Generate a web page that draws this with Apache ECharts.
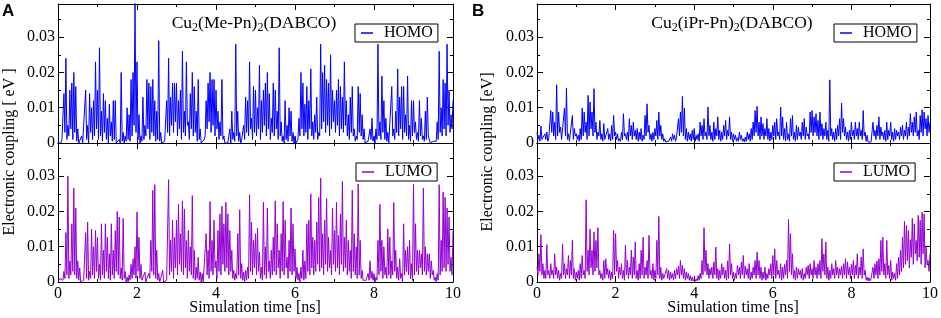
<!DOCTYPE html>
<html>
<head>
<meta charset="utf-8">
<title>Electronic coupling</title>
<script src="https://cdn.jsdelivr.net/npm/echarts@6/dist/echarts.min.js"></script>
<style>
    html, body { margin: 0; padding: 0; background: #fff; }
    #couplingCharts { width: 941px; height: 318px; }
</style>
</head>
<body>
<div id="couplingCharts"></div>
<script>
    // electronic coupling, in meV, one sample every 0.025 ns (0 .. 10 ns)
    const timeStep = 0.025
    const homoA = [
        0,0, 0.5,0, 1,0.5, 14,3, 24,1, 5,2, 15,4, 17,1, 20,3, 16,0.5,
        4,0, 0,0, 2,0, 0,0.5, 15,1, 5,0, 14,3, 10,1, 12,2, 23,4,
        15,1, 27,2, 9,0.5, 14,3, 12,1, 7,0, 11,2, 6,0.5, 12,1, 12,0,
        0,0, 1,0, 20,0.5, 3,0, 2,0.5, 10,1, 8,0.5, 18,2, 20,5, 40,3,
        23,1, 8,0, 2,0.5, 13,1, 5,2, 18,4, 17,1, 16,3, 18,2, 12,0.5,
        9,1, 29,0.5, 3,0, 0,0, 0.5,1, 12,3, 24,2, 13,5, 17,3, 17,6,
        17,2, 12,4, 15,1, 26,3, 9,2, 23,5, 6,1, 14,4, 20,2, 16,3,
        9,0.5, 18,1, 4,0, 0,0, 1,2, 12,4, 17,6, 20,3, 18,5, 18,2,
        15,4, 9,1, 6,2, 18,1, 2,0, 0,0, 0,0.5, 4,0, 9,1, 3,0.5,
        28,2, 9,0.5, 3,0, 1,0.5, 5,1, 13,3, 12,2, 23,4, 7,1, 16,3,
        15,2, 10,4, 22,1, 12,3, 15,5, 17,2, 20,4, 14,1, 7,3, 17,2,
        15,4, 9,1, 27,2, 6,0.5, 2,0, 12,1, 5,0.5, 10,2, 9,0.5, 3,0,
        2,0, 0.5,1, 7,2, 20,4, 17,2, 11,3, 16,1, 12,4, 21,2, 6,1,
        8,3, 13,1, 3,2, 28,4, 20,6, 22,3, 18,5, 17,2, 25,4, 15,6,
        12,3, 15,5, 18,2, 16,4, 13,3, 23,5, 12,2, 8,1, 13,3, 16,2,
        4,0.5, 2,1, 16,3, 14,2, 8,1, 4,0, 0,0, 0.5,0, 4,1, 7,0.5,
        2,0, 4,1, 28,2, 6,1, 19,3, 12,1, 7,0.5, 3,0, 0,0.5, 16,2,
        4,1, 9,3, 21,2, 13,4, 16,1, 16,3, 8,2, 19,1, 5,0.5, 12,2,
        12,3, 6,1, 3,0.5, 12,2, 7,1, 2,0.5, 9,1, 13,2, 2,0, 0,0,
        0.5,0, 0,0.5, 6,1, 26,3, 10,2, 18,4, 17,2, 28,5, 15,3, 8,4,
        12
    ]
    const lumoA = [
        0,0, 1,0.5, 1.5,0.5, 3,1, 14,2, 30,1, 6,2, 16.5,3, 26.6,2, 21,1,
        6,0.5, 4,0, 0,0, 0.5,0, 14,1, 17,0.5, 3,1, 15,2, 10,1, 14.6,3,
        12.7,1, 5,0.5, 16.5,2, 9,1, 16.5,3, 12.7,1, 8,0.5, 16.5,2, 9,1, 14.6,3,
        20,2, 18.4,1, 4,0.5, 18,1, 3,0, 1.4,0, 2,0.5, 5,1, 6.6,2, 10,1,
        19.8,3, 12.7,1, 5,0.5, 0,0, 2.8,0, 1,0.5, 2.4,1, 11.8,3, 26,2, 27.6,1,
        9,0.5, 2.4,0, 0,0, 3.3,0, 0,0, 0.5,1, 29,2, 11.8,3, 17.5,1, 12.7,4,
        17.5,2, 22,5, 13.7,3, 23,2, 20.7,4, 11.8,1, 14.6,3, 10,2, 24.5,1, 9,0.5,
        4.2,1, 7,0.5, 2.8,0, 2.4,0, 0,0.5, 13.7,2, 9,1, 22.8,3, 11.8,2, 17.5,4,
        6,1, 14.6,3, 19.3,2, 21.5,5, 16.5,3, 22.6,4, 19.3,2, 14.6,3, 9,1, 3.3,0.5,
        2.4,1, 13.7,2, 20.5,1, 5.2,0.5, 2.8,0, 3.3,0.5, 4.2,1, 24.7,3, 17,2, 11.8,4,
        13.7,2, 15.3,3, 8.5,1, 4.2,0.5, 22.6,2, 10,1, 21,3, 6,1, 9,2, 12.7,3,
        23,2, 16.5,4, 9,1, 13.7,3, 22.8,2, 17.5,4, 7,1, 11.8,3, 21,2, 16.5,3,
        9.4,1, 4.2,0.5, 2.4,0, 4.2,1, 9,0.5, 6,1, 16.5,3, 17.5,2, 25,4, 12.7,2,
        11.8,3, 17,5, 24,3, 29.4,4, 13.7,2, 17.5,5, 23.6,3, 12.7,4, 9,2, 21,5,
        14.6,3, 22.6,4, 13.2,2, 19.3,5, 28.5,3, 12.7,4, 17.5,2, 11.8,3, 9,1, 26,3,
        13.7,2, 10,1, 27.8,2, 11.8,1, 3.3,0.5, 0,0, 0.5,0, 2.4,0.5, 6,1, 3,0.5,
        2.4,0, 1.4,0.5, 11.8,2, 22,3, 11.8,1, 10,2, 4.2,1, 15,2, 12.7,1, 6,2,
        22.5,3, 9,1, 4.2,0.5, 6.6,1, 2.4,0, 16.5,2, 9,3, 10,2, 11.8,1, 5.2,0.5,
        27.8,2, 16.5,3, 9,2, 9,4, 8,2, 26.6,3, 10,2, 8,3, 8,1, 6,2,
        3.3,0.5, 1.4,0, 2.4,0.5, 27.6,2, 11.8,3, 25.5,4, 24,3, 21,5, 18.4,3, 7,2,
        14.6
    ]
    const homoB = [
        3,1, 2.2,0.5, 4.8,1, 1.5,0.5, 2.6,1, 3.1,0.5, 1.5,2, 9.2,3, 8.8,2, 5.9,1,
        16.5,2, 8.8,3, 4.5,1, 1.5,0.5, 9.9,2, 15.6,1, 2.6,0.5, 1,0.5, 7.8,1, 4.1,2,
        2.6,1, 2.2,0.5, 4.1,1, 9.9,2, 8.8,3, 5.9,1, 13.5,2, 11.6,4, 8.8,2, 15.4,3,
        5.9,1, 3.1,2, 6.4,1, 2.6,0.5, 5.5,1, 1.5,0.5, 4.1,1, 2.6,0.5, 5,1, 7.8,2,
        3.1,1, 2.6,0.5, 1.2,0.5, 3,1, 8.3,2, 2.6,1, 3.1,0.5, 6.9,2, 5,1, 5.9,2,
        3.6,1, 4.1,0.5, 3.1,1, 4.1,0.5, 2.2,1, 7.8,2, 11.1,3, 5,1, 2.6,0.5, 3,1,
        4.1,2, 6.4,1, 8.8,2, 5,1, 2.6,0.5, 1.2,0.3, 0.8,0.2, 0.5,0.3, 1.7,0.5, 2.6,1,
        2.2,0.5, 1.5,1, 6.9,2, 8.8,3, 13.2,2, 9.9,1, 4.1,0.5, 3.1,1, 2.6,0.5, 3.6,1,
        4.1,0.5, 2.2,1, 2.6,0.5, 5.9,2, 5,1, 6.9,2, 3.1,1, 10.2,2, 5,1, 3,0.5,
        5.9,1, 4.1,2, 7.4,1, 3.6,0.5, 3.1,1, 5,2, 6.4,1, 3.6,2, 7.4,1, 3.1,0.5,
        2.6,1, 2.2,0.5, 1.5,0.5, 3.1,1, 2.2,0.5, 1.2,0.3, 1.7,0.5, 3.1,1, 2.6,0.5, 4.1,1,
        5.9,2, 9.2,3, 10.4,2, 5.9,1, 7.4,2, 5.5,1, 4.1,2, 6.9,1, 4.1,0.5, 3.1,1,
        5,2, 5.9,1, 6.9,2, 3.1,1, 10.2,2, 7.4,1, 4.1,0.5, 5.9,1, 2.6,0.5, 6.9,2,
        7.8,1, 3.1,0.5, 5,1, 4.5,2, 3.1,1, 5.9,2, 6.9,1, 4.5,2, 2.6,1, 8.8,3,
        9.2,2, 7.4,3, 8.3,2, 6.4,1, 8.8,2, 5.5,1, 4.1,2, 5.9,1, 3.6,0.5, 17.9,2,
        4.1,1, 3.1,0.5, 4.1,1, 5,2, 6.9,1, 11.3,3, 6.9,2, 4.5,1, 3.1,0.5, 3.6,1,
        5.9,2, 3.6,1, 5.9,2, 4.1,1, 5.9,2, 3.6,1, 9.2,2, 3.1,0.5, 2.2,0.3, 0.3,0,
        0.3,0.5, 5.9,2, 3.6,1, 5,2, 7.4,1, 4.5,2, 3.1,1, 3.6,0.5, 5.9,1, 3.6,2,
        5.9,1, 3.1,0.5, 4.1,1, 3.6,2, 3.1,1, 4.5,2, 5,1, 3.6,2, 5.9,1, 4.5,2,
        8.3,3, 5.9,2, 7.4,3, 8.8,2, 3.6,1, 7.8,3, 9.4,2, 8.8,4, 6.9,2, 7.8,3,
        5.9
    ]
    const lumoB = [
        4.2,2, 8,3, 13.4,2, 5.2,1, 3.3,1, 10.6,2, 3.3,1, 5.2,2, 3.3,1, 8,2,
        4.2,1, 3.3,0.5, 2.4,1, 10.8,2, 5.2,1, 3.8,2, 7.5,1, 6.1,2, 11.8,1, 3.8,0.5,
        2.8,1, 3.3,0.5, 5.2,1, 7.5,2, 3.3,1, 23.3,3, 9,2, 15,4, 9,2, 14.2,3,
        11.8,4, 15.4,2, 3.3,1, 2.4,0.5, 6.1,1, 6.6,2, 3.8,1, 3.3,0.5, 2.8,1, 14.6,2,
        13.7,3, 6.1,1, 4.2,2, 5.2,1, 3.3,0.5, 10.4,2, 6.1,1, 4.2,2, 9,1, 7.1,2,
        11.3,1, 3.3,0.5, 5.2,1, 9,2, 12.7,1, 4.2,2, 6.1,1, 13.2,2, 3.3,1, 5.2,0.5,
        3.3,1, 11.8,2, 18.6,1, 4.2,0.5, 2.4,1, 1.4,0.5, 3.8,1, 3.3,0.5, 2.8,1, 2.4,0.5,
        3.3,1, 3.8,2, 4.5,1, 6.1,2, 4.7,1, 3.8,0.5, 2.8,1, 2.4,0.5, 1.8,0.3, 1.4,0.3,
        0.9,0.2, 0.9,0.3, 1.8,0.5, 2.4,1, 6.1,2, 15.4,3, 9,2, 5.2,1, 3.8,2, 4.2,1,
        5.7,2, 9.9,1, 3.8,0.5, 3.3,1, 5.2,2, 4.2,1, 3.3,0.5, 6,1, 10.8,2, 5.2,1,
        2.8,0.5, 2.4,1, 4.7,2, 4.2,1, 5.7,2, 7.5,1, 4.5,2, 3.8,1, 5.2,0.5, 2.8,1,
        4.2,2, 6.1,1, 8.5,2, 6.1,1, 4.2,0.5, 2.8,1, 4.2,0.5, 2.4,1, 3.8,2, 5.2,1,
        7.5,2, 9.4,1, 6.1,2, 3.3,1, 5.2,0.5, 4.2,1, 5,2, 6.1,1, 17.7,3, 13.7,2,
        8,1, 3.3,0.5, 4.2,1, 3.8,2, 3.3,1, 3.8,0.5, 2.4,1, 4.2,2, 4.7,1, 5.2,2,
        3.8,1, 6.1,2, 4.2,1, 5.2,2, 6.1,1, 12.3,3, 8,2, 11.3,1, 4.2,0.5, 3.3,1,
        5.2,2, 3.8,1, 6.1,2, 4.2,1, 3.8,2, 4.5,1, 5.2,2, 6.6,1, 5.7,2, 4.2,1,
        5,2, 6.1,1, 4.7,2, 8,1, 4.2,2, 7.1,1, 9.4,2, 3.3,0.5, 1.4,0.3, 1.2,0.3,
        0.9,0.5, 4.2,1, 5.2,2, 6,1, 6.6,2, 11.8,3, 12.7,2, 5.2,1, 11.8,2, 4.7,1,
        6.1,0.5, 2.8,1, 2.4,0.5, 5.2,1, 7,2, 9,3, 12.7,4, 17.2,5, 16,6, 14.6,4,
        12,7, 18,5, 16.5,8, 11.8,6, 18.9,7, 17.5,5, 19.8,8, 19.3,4, 9.9,5, 6.1,3,
        8
    ]
    const timeTicks = [0, 2, 4, 6, 8, 10]
    const couplingTicks = [0, 0.01, 0.02, 0.03]
    const panelTitles = ['{m|Cu}{s|2}{m|(Me-Pn)}{s|2}{m|(DABCO)}', '{m|Cu}{s|2}{m|(iPr-Pn)}{s|2}{m|(DABCO)}']
    const yNames = ['Electronic coupling [ eV ]', 'Electronic coupling [eV]']

    const serif = '"Liberation Serif", "Times New Roman", serif'
    const blue = '#0000ff'
    const violet = '#9400d3'
    const yMax = 0.0394

    const times = homoA.map((_, i) => +(i * timeStep).toFixed(3))
    const toPairs = arr => arr.map((v, i) => [times[i], v / 1000])

    // A panel on the left, B on the right; HOMO on top, LUMO below
    const panels = [{left: 58, width: 395, mid: 255}, {left: 537, width: 393, mid: 733}]
    const rows = [{top: 4, height: 139}, {top: 143, height: 139}]

    const axisLine = {onZero: false, lineStyle: {color: '#000', width: 1}}
    function xAxisFor(g, position, labels) {
        return {
            type: 'value', gridIndex: g, position: position,
            min: 0, max: 10, interval: 2,
            axisLine: axisLine,
            axisTick: {inside: true, length: 6, customValues: timeTicks, lineStyle: {color: '#000'}},
            minorTick: {show: true, splitNumber: 2, length: 3, lineStyle: {color: '#000'}},
            splitLine: {show: false},
            axisLabel: {
                show: labels, customValues: timeTicks, margin: 4,
                color: '#000', fontFamily: serif, fontSize: 16
            }
        }
    }
    function yAxisFor(g, position, labels) {
        return {
            type: 'value', gridIndex: g, position: position,
            min: 0, max: yMax, interval: 0.01,
            axisLine: axisLine,
            axisTick: {inside: true, length: 6, customValues: couplingTicks, lineStyle: {color: '#000'}},
            minorTick: {show: true, splitNumber: 2, length: 3, lineStyle: {color: '#000'}},
            splitLine: {show: false},
            axisLabel: {
                show: labels, customValues: couplingTicks, margin: 3,
                color: '#000', fontFamily: serif, fontSize: 16,
                formatter: v => v === 0 ? '0' : v.toFixed(2)
            }
        }
    }

    const grids = [], xAxes = [], yAxes = []
    panels.forEach(p => {
        rows.forEach((r, ri) => {
            const g = grids.length
            grids.push({left: p.left, top: r.top, width: p.width, height: r.height})
            xAxes.push(xAxisFor(g, 'bottom', ri === 1), xAxisFor(g, 'top', false))
            yAxes.push(yAxisFor(g, 'left', true), yAxisFor(g, 'right', false))
        })
    })

    const lines = [
        {name: 'HOMO', values: homoA, grid: 0, color: blue},
        {name: 'LUMO', values: lumoA, grid: 1, color: violet},
        {name: 'HOMO', values: homoB, grid: 2, color: blue},
        {name: 'LUMO', values: lumoB, grid: 3, color: violet}
    ]

    const legendBoxes = [
        {name: 'HOMO', left: 355, top: 24},
        {name: 'LUMO', left: 356, top: 163},
        {name: 'HOMO', left: 834, top: 24},
        {name: 'LUMO', left: 834, top: 163}
    ]

    const graphics = []
    panels.forEach((p, pi) => {
        graphics.push({
            type: 'text', left: pi === 0 ? 2 : 472, top: 3,
            style: {text: pi === 0 ? 'A' : 'B', font: 'bold 17px "Liberation Sans", Arial, sans-serif', fill: '#000'}
        })
        graphics.push({
            type: 'text', x: p.mid - 1, y: 23,
            style: {
                text: panelTitles[pi], fill: '#000', align: 'center', verticalAlign: 'middle',
                rich: {
                    m: {fontFamily: serif, fontSize: 17.5, fill: '#000'},
                    s: {fontFamily: serif, fontSize: 12, fill: '#000', padding: [10, 0, 0, 0]}
                }
            }
        })
        graphics.push({
            type: 'text', x: pi === 0 ? 10 : 488, y: 152, rotation: Math.PI / 2,
            style: {text: yNames[pi], font: '16px ' + serif, fill: '#000', align: 'center', verticalAlign: 'middle'}
        })
        graphics.push({
            type: 'text', x: p.mid, y: 308,
            style: {text: 'Simulation time [ns]', font: '16px ' + serif, fill: '#000', align: 'center', verticalAlign: 'middle'}
        })
    })

    const option = {
        backgroundColor: '#fff',
        animation: false,
        grid: grids,
        xAxis: xAxes,
        yAxis: yAxes,
        legend: legendBoxes.map(l => ({
            data: [{name: l.name, icon: 'rect'}],
            left: l.left, top: l.top,
            padding: [1, 5, 1, 6],
            itemWidth: 12, itemHeight: 1.5,
            borderColor: '#000', borderWidth: 1, backgroundColor: '#fff',
            selectedMode: false,
            textStyle: {fontFamily: serif, fontSize: 16, color: '#000', padding: [0, 0, 0, 6]}
        })),
        series: lines.map(s => ({
            type: 'line', name: s.name,
            xAxisIndex: s.grid * 2, yAxisIndex: s.grid * 2,
            data: toPairs(s.values),
            showSymbol: false, symbol: 'none',
            lineStyle: {width: 1, color: s.color},
            itemStyle: {color: s.color},
            silent: true
        })),
        graphic: graphics
    }

    const couplingCharts = echarts.init(document.getElementById('couplingCharts'))
    couplingCharts.setOption(option)
    window.addEventListener('resize', () => couplingCharts.resize())
</script>
</body>
</html>
